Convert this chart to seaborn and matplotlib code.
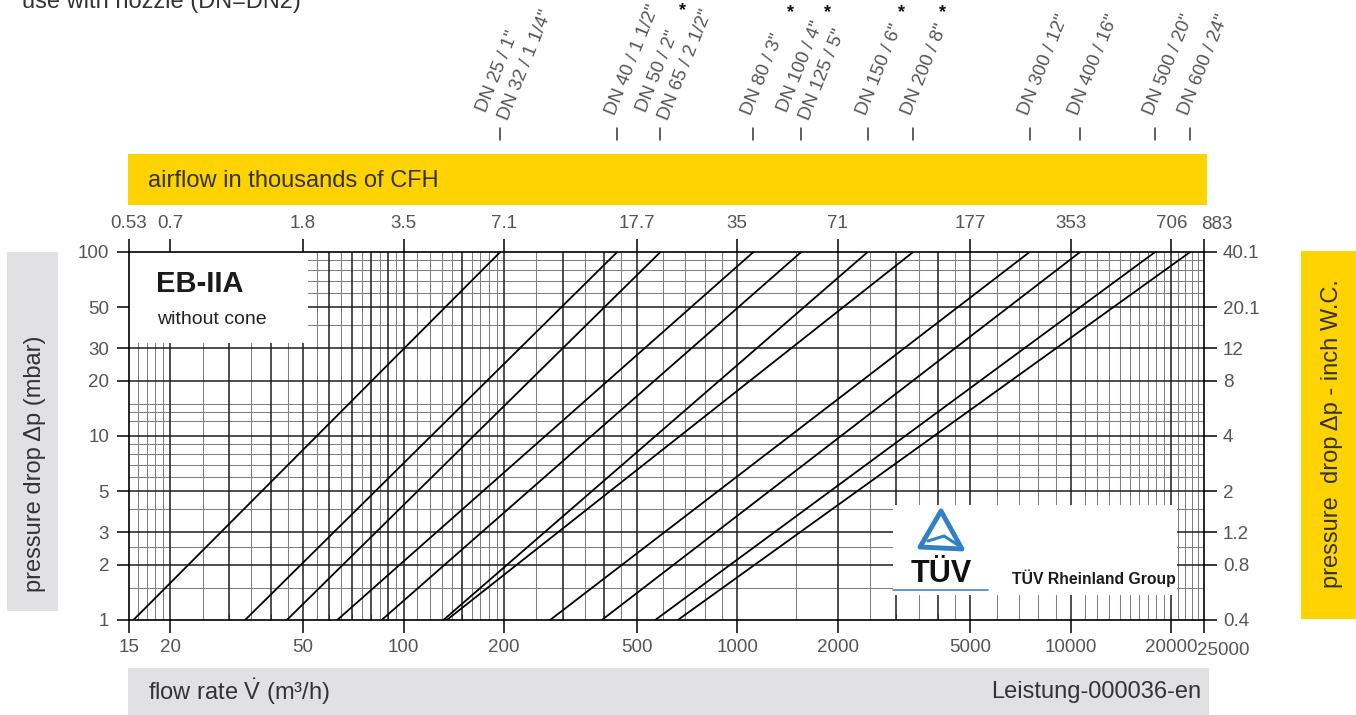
import matplotlib
matplotlib.use("Agg")
import pandas as pd
import matplotlib.pyplot as plt
import matplotlib.transforms as mtransforms
import seaborn as sns
from matplotlib.patches import Rectangle, Polygon
from matplotlib.lines import Line2D
from matplotlib.ticker import FixedLocator, NullFormatter

# flow rate (m3/h) where each curve meets 1 mbar and 100 mbar
q_at_1mbar = [15.5, 33.5, 44.7, 63.3, 86.0, 131.7, 134.8, 275, 393, 568, 664]
q_at_100mbar = [195, 437, 589, 1119, 1556, 2461, 3369, 7527, 10665, 17895, 22790]
dp_ends = [1, 100]

# nominal sizes written above each curve (some curves serve two sizes)
dn_labels = [
    ['DN 25 / 1"', 'DN 32 / 1 1/4"'],
    ['DN 40 / 1 1/2"'],
    ['DN 50 / 2"', 'DN 65 / 2 1/2"'],
    ['DN 80 / 3"'],
    ['DN 100 / 4"', 'DN 125 / 5"'],
    ['DN 150 / 6"'],
    ['DN 200 / 8"'],
    ['DN 300 / 12"'],
    ['DN 400 / 16"'],
    ['DN 500 / 20"'],
    ['DN 600 / 24"'],
]
# sizes marked with * (use with nozzle) and where the star sits relative to the tick
nozzle_marks = {'DN 65 / 2 1/2"': (22, 241), 'DN 80 / 3"': (37, 239),
                'DN 100 / 4"': (26, 239), 'DN 150 / 6"': (34, 239),
                'DN 200 / 8"': (29, 239)}

x_ticks = [15, 20, 50, 100, 200, 500, 1000, 2000, 5000, 10000, 20000, 25000]
x_labels = ["15", "20", "50", "100", "200", "500", "1000", "2000", "5000", "10000", "20000", ""]
cfh_labels = ["0.53", "0.7", "1.8", "3.5", "7.1", "17.7", "35", "71", "177", "353", "706", ""]
y_ticks = [1, 2, 3, 5, 10, 20, 30, 50, 100]
y_labels = ["1", "2", "3", "5", "10", "20", "30", "50", "100"]
inch_labels = ["0.4", "0.8", "1.2", "2", "4", "8", "12", "20.1", "40.1"]

grid_x_major = [20, 30, 40, 50, 60, 70, 80, 90, 100, 150, 200, 300, 400, 500,
                1000, 2000, 3000, 4000, 5000, 10000, 20000]
grid_x_minor = [16, 17, 18, 19, 25, 35, 45, 55, 65, 75, 85, 95,
                110, 120, 130, 140, 160, 170, 180, 190, 250, 350, 450,
                600, 700, 800, 900, 1500, 2500, 3500, 4500,
                6000, 7000, 8000, 9000,
                11000, 12000, 13000, 14000, 15000, 16000, 17000, 18000, 19000,
                21000, 22000, 23000, 24000]
grid_y_major = [2, 3, 5, 10, 20, 30, 50]
grid_y_minor = [1.5, 2.5, 4, 6, 7, 8, 9, 12, 13.5, 15, 40, 60, 70, 80, 90]

W, H = 1356, 715


def fx(px):
    return px / W


def fy(py):
    return 1 - py / H


sns.set_theme(style="white")
plt.rcParams['font.family'] = ['Liberation Sans', 'DejaVu Sans']
plt.rcParams['mathtext.fontset'] = 'custom'
plt.rcParams['mathtext.rm'] = 'Liberation Sans'
plt.rcParams['mathtext.it'] = 'Liberation Sans:italic'

GREY_TXT = '#555555'
DARK_TXT = '#333333'
YELLOW = '#FFD300'
BAND_GREY = '#E1E1E3'
TICK_FS = 13.5

fig = plt.figure(figsize=(W / 100, H / 100), dpi=100)
ax = fig.add_axes([fx(128.6), fy(620), 1075 / W, 368 / H])
ax.set_xscale('log')
ax.set_yscale('log')
ax.set_xlim(15, 25000)
ax.set_ylim(1, 100)

# grid
for v in grid_x_minor:
    ax.axvline(v, color='#808080', lw=0.75, zorder=1)
for v in grid_y_minor:
    ax.axhline(v, color='#808080', lw=0.75, zorder=1)
for v in grid_x_major:
    ax.axvline(v, color='#1e1e1e', lw=1.1, zorder=1.1)
for v in grid_y_major:
    ax.axhline(v, color='#1e1e1e', lw=1.1, zorder=1.1)

# pressure drop curves
rows = []
for i, (q1, q2) in enumerate(zip(q_at_1mbar, q_at_100mbar)):
    rows.append({'curve': i, 'q': q1, 'dp': dp_ends[0]})
    rows.append({'curve': i, 'q': q2, 'dp': dp_ends[1]})
df = pd.DataFrame(rows)
sns.lineplot(data=df, x='q', y='dp', units='curve', estimator=None, sort=False,
             color='black', lw=1.3, ax=ax, legend=False, zorder=3)
ax.set_xlabel('')
ax.set_ylabel('')

# white label boxes
ax.add_patch(Rectangle((0, 0.753), 0.167, 0.247, transform=ax.transAxes,
                       fc='white', ec='none', zorder=2))
ax.add_patch(Rectangle((0.711, 0.068), 0.264, 0.245, transform=ax.transAxes,
                       fc='white', ec='none', zorder=2))

for s in ax.spines.values():
    s.set_color('black')
    s.set_linewidth(1.2)

ax.set_xticks(x_ticks)
ax.set_xticklabels(x_labels)
ax.set_yticks(y_ticks)
ax.set_yticklabels(y_labels)
ax.xaxis.set_minor_locator(FixedLocator(grid_x_major + grid_x_minor))
ax.yaxis.set_minor_locator(FixedLocator(grid_y_major + grid_y_minor))
ax.xaxis.set_minor_formatter(NullFormatter())
ax.yaxis.set_minor_formatter(NullFormatter())
ax.tick_params(which='major', direction='out', length=9, width=1.1,
               colors='black', labelcolor=GREY_TXT, labelsize=TICK_FS, pad=5)
ax.tick_params(which='minor', direction='in', length=4, width=0.7, color='#555555',
               top=True, right=True, bottom=True, left=True)
# the last labels on both x axes sit to the right of their ticks
ax.annotate("25000", xy=(25000, 0), xycoords=('data', 'axes fraction'),
            xytext=(-7, -35), textcoords='offset pixels', ha='left', va='baseline',
            fontsize=TICK_FS, color=GREY_TXT, annotation_clip=False)
ax.annotate("883", xy=(25000, 1), xycoords=('data', 'axes fraction'),
            xytext=(-2, 23), textcoords='offset pixels', ha='left', va='baseline',
            fontsize=TICK_FS, color=GREY_TXT, annotation_clip=False)

ax_r = ax.twinx()
ax_r.set_yscale('log')
ax_r.set_ylim(1, 100)
ax_r.set_yticks(y_ticks)
ax_r.set_yticklabels(inch_labels)
ax_r.yaxis.set_minor_locator(FixedLocator([]))
ax_r.tick_params(which='major', direction='out', length=9, width=1.1,
                 colors='black', labelcolor=GREY_TXT, labelsize=TICK_FS, pad=5)

ax_t = ax.twiny()
ax_t.set_xscale('log')
ax_t.set_xlim(15, 25000)
ax_t.set_xticks(x_ticks)
ax_t.set_xticklabels(cfh_labels)
ax_t.xaxis.set_minor_locator(FixedLocator([]))
ax_t.tick_params(which='major', direction='out', length=9.5, width=1.1,
                 colors='black', labelcolor=GREY_TXT, labelsize=TICK_FS, pad=5)
for a in (ax_r, ax_t):
    for s in a.spines.values():
        s.set_visible(False)

# DN size labels above the chart
top_tr = mtransforms.blended_transform_factory(ax.transData, ax.transAxes)
for q_top, names in zip(q_at_100mbar, dn_labels):
    ax.plot([q_top, q_top], [1.304, 1.337], transform=top_tr, clip_on=False,
            color='#333333', lw=1.1)
    if len(names) == 1:
        offsets = [(-2, 136)]
    else:
        offsets = [(-14, 139), (8, 131)]
    for name, (dx, dy) in zip(names, offsets):
        ax.annotate(name, xy=(q_top, 1), xycoords=top_tr, xytext=(dx, dy),
                    textcoords='offset pixels', rotation=68, rotation_mode='anchor',
                    ha='left', va='baseline', fontsize=13.5, color=GREY_TXT,
                    annotation_clip=False)
        if name in nozzle_marks:
            sx, sy = nozzle_marks[name]
            ax.annotate('*', xy=(q_top, 1), xycoords=top_tr, xytext=(sx, sy),
                        textcoords='offset pixels', ha='center', va='center',
                        fontsize=13, fontweight='bold', color='#111111',
                        annotation_clip=False)

# bands and surrounding labels
fig.patches.append(Rectangle((fx(128), fy(205)), (1207 - 128) / W, 51 / H,
                             transform=fig.transFigure, fc=YELLOW, ec='none'))
fig.patches.append(Rectangle((fx(128), 0), (1209 - 128) / W, 47 / H,
                             transform=fig.transFigure, fc=BAND_GREY, ec='none'))
fig.patches.append(Rectangle((fx(7), fy(611)), 51 / W, 359 / H,
                             transform=fig.transFigure, fc=BAND_GREY, ec='none'))
fig.patches.append(Rectangle((fx(1301), fy(619)), 55 / W, 368 / H,
                             transform=fig.transFigure, fc=YELLOW, ec='none'))

fig.text(fx(148), fy(181), "airflow in thousands of CFH", fontsize=17,
         color=DARK_TXT, va='center', ha='left')
fig.text(fx(148), fy(692), r"flow rate $\dot{\mathrm{V}}$ (m³/h)", fontsize=17,
         color=DARK_TXT, va='center', ha='left')
fig.text(fx(1201), fy(692), "Leistung-000036-en", fontsize=17,
         color=DARK_TXT, va='center', ha='right')
fig.text(fx(35), fy(464), "pressure drop \u0394p (mbar)", fontsize=17,
         color=DARK_TXT, va='center', ha='center', rotation=90)
fig.text(fx(1332), fy(434), "pressure  drop \u0394p - inch W.C.", fontsize=17,
         color=DARK_TXT, va='center', ha='center', rotation=90)
fig.text(fx(22), fy(8), "use with nozzle (DN=DN2)", fontsize=17,
         color=DARK_TXT, va='baseline', ha='left')

fig.text(fx(156), fy(284), "EB-IIA", fontsize=21, fontweight='bold',
         color='#1a1a1a', va='center', ha='left')
fig.text(fx(157), fy(320), "without cone", fontsize=14,
         color='#222222', va='center', ha='left')

# TUV logo
tri = [(fx(941), fy(511)), (fx(920), fy(547)), (fx(962), fy(549))]
fig.patches.append(Polygon(tri, closed=True, transform=fig.transFigure,
                           fc='none', ec='#2f80c4', lw=3.5, joinstyle='round'))
fig.lines.append(Line2D([fx(928), fx(944), fx(958)], [fy(541), fy(536), fy(545)],
                        transform=fig.transFigure, color='#2f80c4', lw=2.2))
fig.text(fx(941), fy(574), "T\u00dcV", fontsize=22, fontweight='bold',
         color='#111111', va='center', ha='center')
fig.lines.append(Line2D([fx(893), fx(988)], [fy(590), fy(590)],
                        transform=fig.transFigure, color='#4a92d2', lw=1.3))
fig.text(fx(1012), fy(578), "T\u00dcV Rheinland Group", fontsize=11.3,
         fontweight='bold', color='#1a1a1a', va='center', ha='left')

fig.savefig("out.png", dpi=100)
